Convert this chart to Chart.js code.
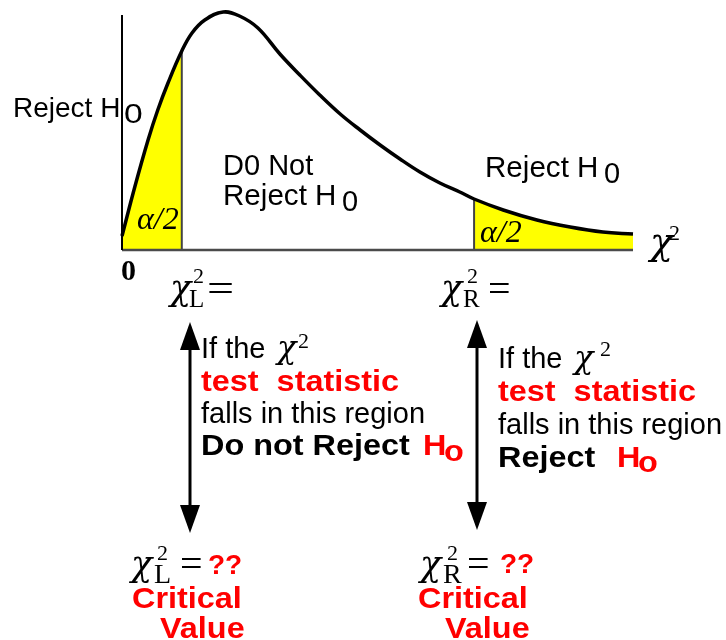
<!DOCTYPE html>
<html>
<head>
<meta charset="utf-8">
<script src="https://cdn.jsdelivr.net/npm/chart.js@4.4.1/dist/chart.umd.min.js"></script>
<style>
  html, body { margin: 0; padding: 0; background: #fff; }
  #wrap { width: 726px; height: 640px; }
</style>
</head>
<body>
<div id="wrap"><canvas id="chi" width="726" height="640"></canvas></div>
<script>
// chi-square density
const curveX = [0, 0.25, 0.51, 0.70, 0.90, 1.17, 1.37, 1.62, 1.98, 2.30, 2.66, 3.09, 3.48, 3.87,
                4.27, 4.66, 5.05, 5.44, 5.83, 6.22, 6.61, 6.89, 7.46, 8.12, 8.77, 9.41, 10.0];
const curveY = [0.014, 0.063, 0.110, 0.140, 0.167, 0.199, 0.217, 0.230, 0.238, 0.234, 0.222, 0.196, 0.175, 0.155,
                0.136, 0.120, 0.105, 0.091, 0.078, 0.067, 0.058, 0.051, 0.040, 0.030, 0.023, 0.018, 0.016];
// critical values (left / right tail)
const critL = 1.17;
const critR = 6.89;

const SANS = '"Liberation Sans", Arial, sans-serif';
const SERIF = '"Liberation Serif", "Times New Roman", serif';
const GREEK = '"DejaVu Serif", serif';

const curve = curveX.map((x, i) => ({ x: x, y: curveY[i] }));
const leftTail = curve.filter(p => p.x <= critL);
const rightTail = curve.filter(p => p.x >= critR);
const yAt = v => curveY[curveX.indexOf(v)];

function txt(ctx, s, x, y, font, color, sx) {
    ctx.save();
    ctx.font = font;
    ctx.fillStyle = color || '#000';
    ctx.textAlign = 'left';
    ctx.textBaseline = 'alphabetic';
    ctx.translate(x, y);
    ctx.scale(sx || 1, 1);
    ctx.fillText(s, 0, 0);
    ctx.restore();
}

function arrow(ctx, x, top, bottom) {
    ctx.save();
    ctx.strokeStyle = '#000';
    ctx.fillStyle = '#000';
    ctx.lineWidth = 3;
    ctx.beginPath();
    ctx.moveTo(x, top + 20);
    ctx.lineTo(x, bottom - 20);
    ctx.stroke();
    ctx.beginPath();
    ctx.moveTo(x, top); ctx.lineTo(x - 10, top + 28); ctx.lineTo(x + 10, top + 28); ctx.closePath();
    ctx.fill();
    ctx.beginPath();
    ctx.moveTo(x, bottom); ctx.lineTo(x - 10, bottom - 28); ctx.lineTo(x + 10, bottom - 28); ctx.closePath();
    ctx.fill();
    ctx.restore();
}

// axes drawn by hand so they sit exactly on the chart area edges
const axesPlugin = {
    id: 'axes',
    afterDatasetsDraw(chart) {
        const ctx = chart.ctx;
        const xs = chart.scales.x, ys = chart.scales.y;
        const x0 = xs.getPixelForValue(0), y0 = ys.getPixelForValue(0);
        ctx.save();
        ctx.strokeStyle = '#4a4a4a';
        ctx.lineWidth = 2.5;
        ctx.beginPath();
        ctx.moveTo(x0, y0);
        ctx.lineTo(xs.getPixelForValue(10), y0);
        ctx.stroke();
        ctx.strokeStyle = '#000';
        ctx.lineWidth = 2;
        ctx.beginPath();
        ctx.moveTo(x0, y0);
        ctx.lineTo(x0, chart.chartArea.top);
        ctx.stroke();
        ctx.restore();
    }
};

const labelsPlugin = {
    id: 'labels',
    afterDraw(chart) {
        const ctx = chart.ctx;
        const red = '#ff0000';
        const reg = '29px ' + SANS;
        const bold = 'bold 30px ' + SANS;
        const it = s => 'italic ' + s + 'px ' + SERIF;
        const chi = s => 'italic ' + s + 'px ' + GREEK;
        const rm = s => s + 'px ' + SERIF;

        // region labels on the curve
        txt(ctx, 'Reject H', 13, 117, '28px ' + SANS);
        txt(ctx, '0', 124, 123, '28px ' + SANS, '#000', 1.2);
        txt(ctx, 'D0 Not', 223, 175, reg);
        txt(ctx, 'Reject H', 223, 205, reg, '#000', 1.02);
        txt(ctx, '0', 342, 211, reg);
        txt(ctx, 'Reject H', 485, 177, reg, '#000', 1.02);
        txt(ctx, '0', 604, 183, reg);
        txt(ctx, '\u03b1/2', 137, 229, it(32));
        txt(ctx, '\u03b1/2', 480, 242, it(32));

        // axis labels
        txt(ctx, '\u03c7', 650, 254, chi(38));
        txt(ctx, '2', 669, 240, rm(22));
        txt(ctx, '0', 121, 280, 'bold 30px ' + SERIF);

        txt(ctx, '\u03c7', 170, 300, chi(35));
        txt(ctx, 'L', 189, 307, rm(25));
        txt(ctx, '2', 193, 283, rm(22));
        txt(ctx, '=', 207, 302, rm(40), '#000', 1.2);

        txt(ctx, '\u03c7', 441, 300, chi(35));
        txt(ctx, 'R', 463, 307, rm(25));
        txt(ctx, '2', 467, 283, rm(22));
        txt(ctx, '=', 488, 302, rm(40));

        // arrows
        arrow(ctx, 190, 322, 533);
        arrow(ctx, 477, 320, 530);

        // left explanation
        txt(ctx, 'If the', 201, 358, reg);
        txt(ctx, '\u03c7', 277, 358, chi(32));
        txt(ctx, '2', 298, 348, rm(22));
        txt(ctx, 'test  statistic', 201, 391, bold, red, 1.08);
        txt(ctx, 'falls in this region', 201, 423, reg);
        txt(ctx, 'Do not Reject', 201, 455, bold, '#000', 1.08);
        txt(ctx, 'H', 423, 455, bold, red, 1.08);
        txt(ctx, 'o', 444, 461, bold, red, 1.08);

        // right explanation
        txt(ctx, 'If the', 498, 368, reg);
        txt(ctx, '\u03c7', 574, 368, chi(32));
        txt(ctx, '2', 600, 356, rm(22));
        txt(ctx, 'test  statistic', 498, 401, bold, red, 1.08);
        txt(ctx, 'falls in this region', 498, 434, reg);
        txt(ctx, 'Reject', 498, 467, bold, '#000', 1.08);
        txt(ctx, 'H', 617, 467, bold, red, 1.08);
        txt(ctx, 'o', 638, 472, bold, red, 1.08);

        // critical values
        txt(ctx, '\u03c7', 131, 576, chi(35));
        txt(ctx, 'L', 154, 583, rm(28));
        txt(ctx, '2', 157, 560, rm(22));
        txt(ctx, '=', 180, 577, rm(40));
        txt(ctx, '??', 208, 574, 'bold 28px ' + SANS, red);
        txt(ctx, 'Critical', 132, 608, bold, red, 1.08);
        txt(ctx, 'Value', 160, 638, bold, red, 1.08);

        txt(ctx, '\u03c7', 420, 576, chi(35));
        txt(ctx, 'R', 443, 583, rm(28));
        txt(ctx, '2', 447, 560, rm(22));
        txt(ctx, '=', 467, 577, rm(40));
        txt(ctx, '??', 500, 573, 'bold 28px ' + SANS, red);
        txt(ctx, 'Critical', 418, 608, bold, red, 1.08);
        txt(ctx, 'Value', 445, 638, bold, red, 1.08);
    }
};

const ctx = document.getElementById('chi').getContext('2d');
new Chart(ctx, {
    type: 'line',
    data: {
        datasets: [{
            data: curve,
            borderColor: '#000',
            borderWidth: 3.5,
            pointRadius: 0,
            tension: 0.4,
            fill: false,
            clip: false,
            order: 0
        }, {
            data: [{ x: critL, y: 0 }, { x: critL, y: yAt(critL) }],
            borderColor: '#444',
            borderWidth: 2,
            pointRadius: 0,
            fill: false,
            order: 1
        }, {
            data: [{ x: critR, y: 0 }, { x: critR, y: yAt(critR) }],
            borderColor: '#444',
            borderWidth: 2,
            pointRadius: 0,
            fill: false,
            order: 1
        }, {
            data: leftTail,
            borderWidth: 0,
            borderColor: 'rgba(0,0,0,0)',
            backgroundColor: '#ffff00',
            pointRadius: 0,
            tension: 0.4,
            fill: 'origin',
            order: 2
        }, {
            data: rightTail,
            borderWidth: 0,
            borderColor: 'rgba(0,0,0,0)',
            backgroundColor: '#ffff00',
            pointRadius: 0,
            tension: 0.4,
            fill: 'origin',
            order: 2
        }]
    },
    options: {
        responsive: false,
        animation: false,
        layout: { padding: { left: 122, right: 93, top: 15, bottom: 390 } },
        plugins: { legend: { display: false }, tooltip: { enabled: false } },
        scales: {
            x: { type: 'linear', min: 0, max: 10, display: false },
            y: { type: 'linear', min: 0, max: 0.235, display: false }
        }
    },
    plugins: [axesPlugin, labelsPlugin]
});
</script>
</body>
</html>
